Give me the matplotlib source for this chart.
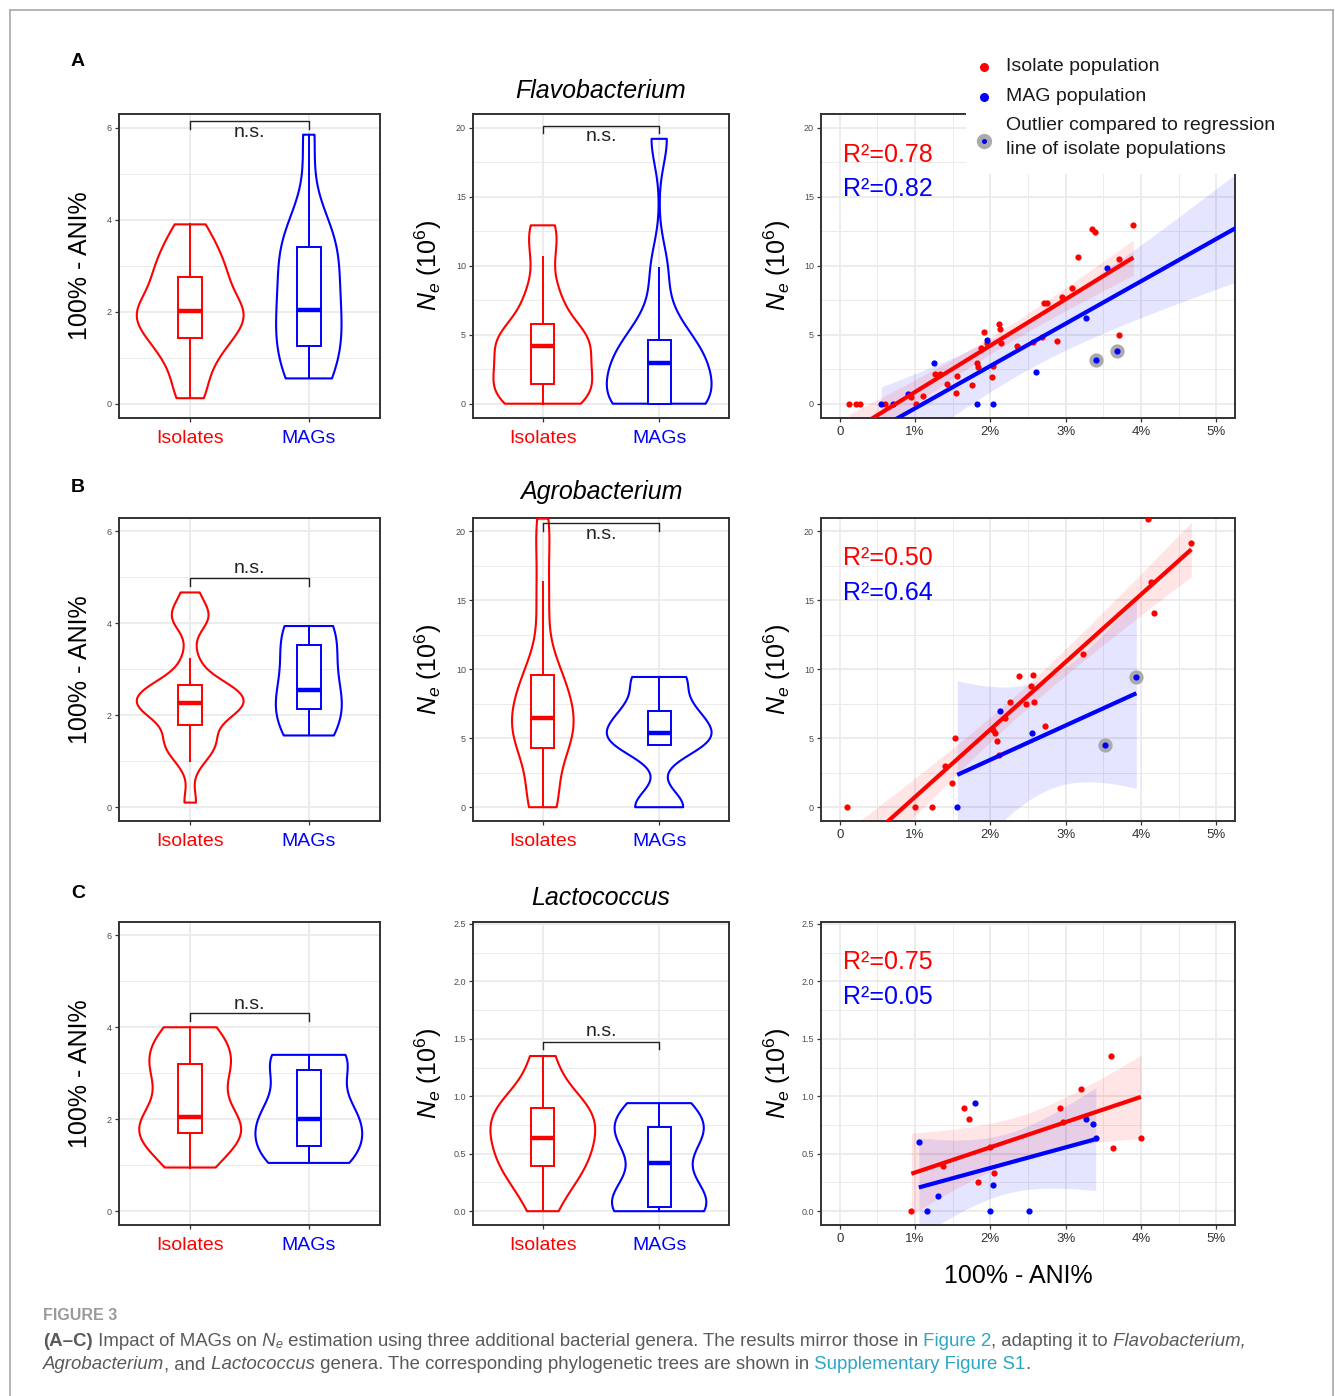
import numpy as np
import matplotlib
matplotlib.use("Agg")
import matplotlib.pyplot as plt
from matplotlib import font_manager, mlab
from matplotlib.lines import Line2D
from matplotlib.ticker import FixedLocator

plt.rcParams["font.family"] = ["Liberation Sans", "DejaVu Sans"]
plt.rcParams["mathtext.fontset"] = "custom"
plt.rcParams["mathtext.rm"] = "Liberation Sans"
plt.rcParams["mathtext.it"] = "Liberation Sans:italic"
plt.rcParams["mathtext.bf"] = "Liberation Sans:bold"

# ---------------- data ----------------
genera = ["Flavobacterium", "Agrobacterium", "Lactococcus"]
panel_letters = ["A", "B", "C"]
group_labels = ["Isolates", "MAGs"]

# x = 100% - ANI%, y = Ne (10^6); one entry per population
flavo_iso_ani = [0.12, 0.22, 0.27, 0.60, 0.95, 1.01, 1.11, 1.26, 1.33, 1.42, 1.54, 1.56,
                 1.76, 1.82, 1.84, 1.87, 1.92, 1.96, 2.02, 2.03, 2.12, 2.13, 2.14, 2.36,
                 2.56, 2.68, 2.71, 2.75, 2.88, 2.95, 3.09, 3.16, 3.35, 3.39, 3.71, 3.71, 3.90]
flavo_iso_ne = [0.0, 0.0, 0.0, 0.0, 0.46, 0.0, 0.58, 2.17, 2.17, 1.42, 0.77, 2.03,
                1.38, 2.94, 2.63, 4.03, 5.17, 4.39, 1.93, 2.70, 5.77, 5.40, 4.39, 4.15,
                4.44, 4.80, 7.33, 7.29, 4.57, 7.77, 8.37, 10.66, 12.64, 12.47, 10.49, 4.97, 12.93]
flavo_mag_ani = [0.55, 0.71, 0.91, 1.25, 1.82, 1.95, 2.04, 2.60, 3.27, 3.41, 3.55, 3.68, 5.85]
flavo_mag_ne = [0.0, 0.0, 0.70, 2.95, 0.0, 4.6, 0.0, 2.30, 6.21, 3.14, 9.82, 3.79, 19.2]
flavo_mag_outlier = [0, 0, 0, 0, 0, 0, 0, 0, 0, 1, 0, 1, 0]

agro_iso_ani = [0.10, 1.00, 1.22, 1.40, 1.49, 1.53, 2.04, 2.06, 2.09, 2.12, 2.19, 2.26,
                2.38, 2.47, 2.54, 2.56, 2.58, 2.73, 3.23, 4.10, 4.14, 4.17, 4.67]
agro_iso_ne = [0.0, 0.0, 0.0, 3.02, 1.76, 5.02, 5.63, 5.39, 4.83, 3.77, 6.47, 7.63,
               9.52, 7.51, 8.77, 9.61, 7.63, 5.87, 11.11, 20.92, 16.30, 14.06, 19.13]
agro_mag_ani = [1.56, 2.13, 2.55, 3.52, 3.94]
agro_mag_ne = [0.0, 7.00, 5.41, 4.54, 9.44]
agro_mag_outlier = [0, 0, 0, 1, 1]

lacto_iso_ani = [0.95, 1.37, 1.65, 1.71, 1.83, 1.99, 2.05, 2.92, 2.96, 3.20, 3.60, 3.63, 4.00]
lacto_iso_ne = [0.0, 0.39, 0.90, 0.80, 0.25, 0.56, 0.33, 0.90, 0.78, 1.06, 1.35, 0.55, 0.64]
lacto_mag_ani = [1.05, 1.16, 1.30, 1.80, 1.99, 2.03, 2.51, 3.27, 3.37, 3.40]
lacto_mag_ne = [0.60, 0.0, 0.13, 0.94, 0.0, 0.23, 0.0, 0.80, 0.76, 0.64]
lacto_mag_outlier = [0] * 10

r2_isolates = ["0.78", "0.50", "0.75"]
r2_mags = ["0.82", "0.64", "0.05"]

ani_ticks = [0, 2, 4, 6]
ne_ticks = [[0, 5, 10, 15, 20], [0, 5, 10, 15, 20], [0.0, 0.5, 1.0, 1.5, 2.0, 2.5]]
ne_tick_labels = [["0", "5", "10", "15", "20"], ["0", "5", "10", "15", "20"],
                  ["0.0", "0.5", "1.0", "1.5", "2.0", "2.5"]]
pct_ticks = [0, 1, 2, 3, 4, 5]
pct_tick_labels = ["0", "1%", "2%", "3%", "4%", "5%"]

rows = [
    (flavo_iso_ani, flavo_iso_ne, flavo_mag_ani, flavo_mag_ne, flavo_mag_outlier),
    (agro_iso_ani, agro_iso_ne, agro_mag_ani, agro_mag_ne, agro_mag_outlier),
    (lacto_iso_ani, lacto_iso_ne, lacto_mag_ani, lacto_mag_ne, lacto_mag_outlier),
]

# ---------------- layout / style ----------------
W, H = 1335, 1396
RED, BLUE = "#FF0000", "#0000FF"
GRID = "#EBEBEB"
FRAME = "#333333"
TICKTXT = "#4D4D4D"

row_y = [(114, 417.5), (517.5, 821), (921.5, 1225)]
col_x = [(119, 380), (473, 729), (821, 1235)]
ne_ylim = [(-1, 21), (-1, 21), (-0.12, 2.52)]
ne_minor = [[2.5, 7.5, 12.5, 17.5], [2.5, 7.5, 12.5, 17.5], [0.25, 0.75, 1.25, 1.75, 2.25]]
# (bar, leg end, text) heights of the n.s. brackets
ani_brackets = [(6.14, 5.98, 5.90), (4.99, 4.82, 5.19), (4.31, 4.14, 4.50)]
ne_brackets = [(20.15, 19.6, 19.35), (20.6, 20.05, 19.75), (1.47, 1.41, 1.56)]
title_y = [91, 492, 898]
letter_y = [62, 488, 893]

fig = plt.figure(figsize=(W / 100, H / 100), dpi=100)


def add_ax(x0, x1, y0, y1):
    return fig.add_axes([x0 / W, 1 - y1 / H, (x1 - x0) / W, (y1 - y0) / H])


def style(ax):
    for sp in ax.spines.values():
        sp.set_color(FRAME)
        sp.set_linewidth(1.4)
    ax.set_axisbelow(True)
    ax.tick_params(which="major", direction="out", length=3, width=0.9, color=FRAME,
                   labelsize=6.5, labelcolor=TICKTXT, pad=2)
    ax.tick_params(which="minor", length=0)
    ax.grid(which="major", color=GRID, lw=1.3)
    ax.grid(which="minor", color=GRID, lw=0.7)


def nrd0(a):
    # R's default density bandwidth
    hi = a.std(ddof=1)
    q75, q25 = np.percentile(a, [75, 25])
    lo = min(hi, (q75 - q25) / 1.34)
    if lo == 0:
        lo = hi
    return 0.9 * lo * len(a) ** -0.2


def violins(ax, samples, colors):
    factors, peaks = [], []
    for s in samples:
        a = np.asarray(s, float)
        f = nrd0(a) / a.std(ddof=1)
        kde = mlab.GaussianKDE(a, bw_method=f)
        peaks.append(kde.evaluate(np.linspace(a.min(), a.max(), 512)).max())
        factors.append(f)
    for i, (s, c) in enumerate(zip(samples, colors)):
        parts = ax.violinplot([s], positions=[i + 1], widths=0.9 * peaks[i] / max(peaks),
                              bw_method=factors[i], points=512, showextrema=False)
        for b in parts["bodies"]:
            b.set_alpha(1)
            b.set_facecolor("none")
            b.set_edgecolor(c)
            b.set_linewidth(1.5)
            b.set_zorder(3)
        ax.boxplot([s], positions=[i + 1], widths=0.2, whis=1.5, showfliers=False,
                   showcaps=False, patch_artist=True, manage_ticks=False,
                   boxprops=dict(facecolor="white", edgecolor=c, linewidth=1.4),
                   whiskerprops=dict(color=c, linewidth=1.4),
                   medianprops=dict(color=c, linewidth=3.2), zorder=4)


def bracket(ax, bar, leg, ty):
    ax.plot([1, 1, 2, 2], [leg, bar, bar, leg], color="#222222", lw=1.0, zorder=5,
            clip_on=False)
    ax.text(1.5, ty, "n.s.", ha="center", va="center", fontsize=14, color="#222222")


def t975(df):
    z = 1.959964
    return (z + (z ** 3 + z) / (4 * df) + (5 * z ** 5 + 16 * z ** 3 + 3 * z) / (96 * df ** 2)
            + (3 * z ** 7 + 19 * z ** 5 + 17 * z ** 3 - 15 * z) / (384 * df ** 3))


def lm_band(x, y):
    x = np.asarray(x, float)
    y = np.asarray(y, float)
    b, a = np.polyfit(x, y, 1)
    g = np.linspace(x.min(), x.max(), 100)
    fit = a + b * g
    s = np.sqrt(((y - (a + b * x)) ** 2).sum() / (len(x) - 2))
    se = s * np.sqrt(1 / len(x) + (g - x.mean()) ** 2 / ((x - x.mean()) ** 2).sum())
    t = t975(len(x) - 2)
    return g, fit, fit - t * se, fit + t * se


ne_label = r"$N_e\ (10^6)$"

for r, (iso_x, iso_y, mag_x, mag_y, mag_out) in enumerate(rows):
    y0, y1 = row_y[r]

    # --- ANI violins
    ax = add_ax(*col_x[0], y0, y1)
    style(ax)
    violins(ax, [iso_x, mag_x], [RED, BLUE])
    ax.set_xlim(0.4, 2.6)
    ax.set_ylim(-0.3, 6.3)
    ax.set_yticks(ani_ticks)
    ax.yaxis.set_minor_locator(FixedLocator([1, 3, 5]))
    ax.set_xticks([1, 2])
    ax.set_xticklabels(group_labels, fontsize=14)
    ax.tick_params(axis="x", pad=6)
    for lab, c in zip(ax.get_xticklabels(), [RED, BLUE]):
        lab.set_color(c)
    ax.set_ylabel("100% - ANI%", fontsize=18, va="center")
    ax.yaxis.set_label_coords(-0.149, 0.5)
    bracket(ax, *ani_brackets[r])
    fig.text(78 / W, 1 - letter_y[r] / H, panel_letters[r], fontsize=14, fontweight="bold",
             ha="center", va="center")

    # --- Ne violins
    ax = add_ax(*col_x[1], y0, y1)
    style(ax)
    violins(ax, [iso_y, mag_y], [RED, BLUE])
    ax.set_xlim(0.4, 2.6)
    ax.set_ylim(*ne_ylim[r])
    ax.set_yticks(ne_ticks[r])
    ax.set_yticklabels(ne_tick_labels[r])
    ax.yaxis.set_minor_locator(FixedLocator(ne_minor[r]))
    ax.set_xticks([1, 2])
    ax.set_xticklabels(group_labels, fontsize=14)
    ax.tick_params(axis="x", pad=6)
    for lab, c in zip(ax.get_xticklabels(), [RED, BLUE]):
        lab.set_color(c)
    ax.set_ylabel(ne_label, fontsize=18, va="center")
    ax.yaxis.set_label_coords(-0.176, 0.5)
    bracket(ax, *ne_brackets[r])
    fig.text(601 / W, 1 - title_y[r] / H, genera[r], fontsize=18, fontstyle="italic",
             ha="center", va="center")

    # --- scatter with regressions
    ax = add_ax(*col_x[2], y0, y1)
    style(ax)
    mx = np.asarray(mag_x)
    my = np.asarray(mag_y)
    out = np.asarray(mag_out, bool)
    ax.scatter(mx[out], my[out], s=105, color="#AAAAAA", lw=0, zorder=2.5)
    ax.scatter(iso_x, iso_y, s=20, color=RED, lw=0, zorder=3)
    ax.scatter(mx, my, s=20, color=BLUE, lw=0, zorder=3)
    for xs, ys, c in [(mag_x, mag_y, BLUE), (iso_x, iso_y, RED)]:
        g, fit, lo, hi = lm_band(xs, ys)
        ax.fill_between(g, lo, hi, color=c, alpha=0.1, lw=0, zorder=2)
        ax.plot(g, fit, color=c, lw=3, zorder=4, solid_capstyle="butt")
    ax.set_xlim(-0.25, 5.25)
    ax.set_ylim(*ne_ylim[r])
    ax.set_xticks(pct_ticks)
    ax.set_xticklabels(pct_tick_labels)
    ax.xaxis.set_minor_locator(FixedLocator([0.5, 1.5, 2.5, 3.5, 4.5]))
    ax.set_yticks(ne_ticks[r])
    ax.set_yticklabels(ne_tick_labels[r])
    ax.yaxis.set_minor_locator(FixedLocator(ne_minor[r]))
    ax.tick_params(axis="x", labelsize=9.5, pad=3, labelcolor="#333333")
    ax.set_ylabel(ne_label, fontsize=18, va="center")
    ax.yaxis.set_label_coords(-0.106, 0.5)
    ax.text(0.053, 0.866, "R²=" + r2_isolates[r], transform=ax.transAxes, color=RED,
            fontsize=18, va="center", ha="left")
    ax.text(0.053, 0.752, "R²=" + r2_mags[r], transform=ax.transAxes, color=BLUE,
            fontsize=18, va="center", ha="left")
    if r == 2:
        ax.set_xlabel("100% - ANI%", fontsize=18, va="center")
        ax.xaxis.set_label_coords(0.476, -0.168)

# ---------------- legend block (covers top-right of panel A scatter) ----------------
leg = add_ax(966, 1310, 40, 174)
leg.set_facecolor("white")
leg.set_xlim(966, 1310)
leg.set_ylim(174, 40)
leg.set_xticks([])
leg.set_yticks([])
for sp in leg.spines.values():
    sp.set_visible(False)
leg.plot(984, 66.7, "o", ms=6.5, color=RED, mew=0)
leg.plot(984, 96.7, "o", ms=6.5, color=BLUE, mew=0)
leg.plot(984, 140.7, "o", ms=11, color="#AAAAAA", mew=0)
leg.plot(984, 140.7, "o", ms=3.6, color=BLUE, mew=0)
for ty, txt in [(66.7, "Isolate population"), (96.7, "MAG population"),
                (126, "Outlier compared to regression"), (150, "line of isolate populations")]:
    leg.text(1006, ty, txt, fontsize=14, color="#1A1A1A", va="center", ha="left")

# ---------------- outer frame ----------------
for xs, ys in [([9.5, 9.5], [H, 9.5]), ([9.5, 1332.5], [9.5, 9.5]), ([1332.5, 1332.5], [9.5, H])]:
    fig.add_artist(Line2D([x / W for x in xs], [1 - y / H for y in ys], color="#A8A8A8",
                          lw=1.2, transform=fig.transFigure))

# ---------------- caption ----------------
names = {f.name for f in font_manager.fontManager.ttflist}
cap_family = "Liberation Sans Narrow" if "Liberation Sans Narrow" in names else "Liberation Sans"
CAP_GREY = "#5A5A5A"
CAP_LINK = "#2BA6C4"

cap = fig.add_axes([0, 0, 1, 1])
cap.set_axis_off()
cap.set_xlim(0, W)
cap.set_ylim(H, 0)

line1 = [("(A–C)", "bold"), (" Impact of MAGs on", "plain"), (" N", "ital"), ("e", "sub"),
         (" estimation using three additional bacterial genera. The results mirror those in", "plain"),
         (" Figure 2", "link"), (", adapting it to", "plain"), (" Flavobacterium,", "ital")]
line2 = [("Agrobacterium", "ital"), (", and", "plain"), (" Lactococcus", "ital"),
         (" genera. The corresponding phylogenetic trees are shown in", "plain"),
         (" Supplementary Figure S1", "link"), (".", "plain")]


def run_line(x, y, pieces, size):
    arts = []
    prev = base = None
    prev_kind = None
    for txt, kind in pieces:
        kw = dict(fontsize=size, color=CAP_GREY, family=cap_family, va="bottom", ha="left")
        if kind == "bold":
            kw["fontweight"] = "bold"
        elif kind == "ital":
            kw["fontstyle"] = "italic"
        elif kind == "link":
            kw["color"] = CAP_LINK
        elif kind == "sub":
            kw.update(fontstyle="italic", fontsize=size * 0.68)
        if prev is None:
            t = cap.text(x, y, txt, **kw)
        elif kind == "sub":
            base = prev
            t = cap.annotate(txt, xy=(1, 0), xycoords=prev, xytext=(0.3, -0.1 * size),
                             textcoords="offset points", **kw)
        else:
            xyc = (prev, base) if prev_kind == "sub" else prev
            t = cap.annotate(txt, xy=(1, 0), xycoords=xyc, **kw)
        arts.append(t)
        prev, prev_kind = t, kind
    return arts


def build_caption(size):
    a = [cap.text(43, 1323.5, "FIGURE 3", fontsize=size * 0.86, color="#9A9A9A",
                  fontweight="bold", family=cap_family, va="bottom", ha="left")]
    l1 = run_line(43, 1349.5, line1, size)
    l2 = run_line(43, 1373, line2, size)
    return a + l1 + l2, l1[-1]


size = 12.5
arts, last = build_caption(size)
fig.canvas.draw()
right = last.get_window_extent(fig.canvas.get_renderer()).x1
for a in arts:
    a.remove()
size = size * (1252 - 43) / (right - 43)
build_caption(size)

fig.savefig("out.png", dpi=100)
